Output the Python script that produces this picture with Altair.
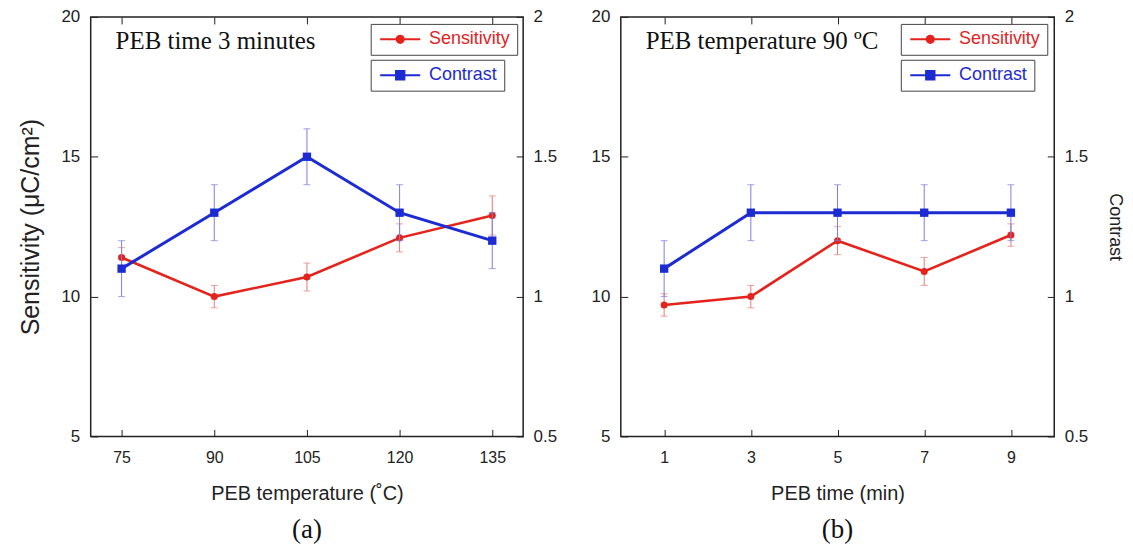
import altair as alt
import pandas as pd

# ---- data ----
temp_c = [75, 90, 105, 120, 135]
sens_temp = [11.4, 10.0, 10.7, 12.1, 12.9]
sens_temp_err = [0.35, 0.4, 0.5, 0.5, 0.7]
con_temp = [1.1, 1.3, 1.5, 1.3, 1.2]
con_temp_err = [0.1, 0.1, 0.1, 0.1, 0.1]

time_min = [1, 3, 5, 7, 9]
sens_time = [9.7, 10.0, 12.0, 10.9, 12.2]
sens_time_err = [0.4, 0.4, 0.5, 0.5, 0.4]
con_time = [1.1, 1.3, 1.3, 1.3, 1.3]
con_time_err = [0.1, 0.1, 0.1, 0.1, 0.1]

sens_ticks = [5, 10, 15, 20]
con_ticks = [0.5, 1, 1.5, 2]

RED = "#e3231c"
RED_ERR = "#e77a74"
BLUE = "#1c2bd2"
BLUE_ERR = "#7a7fdc"
SANS = "Liberation Sans"
SERIF = "Liberation Serif"

CIRCLE_PATH = ("M-1,0H5.7M2.35,-0.6A0.6,0.6,0,1,1,2.35,0.6"
               "A0.6,0.6,0,1,1,2.35,-0.6Z")
SQUARE_PATH = "M-1,0H5.7M1.65,-0.7H3.05V0.7H1.65Z"


def legend(color, path, ly):
    return alt.Legend(
        title=None, orient="none", legendX=281, legendY=ly,
        strokeColor="#444", fillColor="white", padding=6.5, cornerRadius=0,
        labelFont=SANS, labelFontSize=18, labelColor=color,
        symbolType=path, symbolSize=144, symbolStrokeWidth=2,
        symbolStrokeColor=color, symbolFillColor=color, symbolOpacity=1,
        labelOffset=34,
    )


def panel(xs, sens, serr, con, cerr, xdomain, xticks, xtitle, inner, tag,
          left_title, right_title, width):
    df = pd.DataFrame({
        "x": xs,
        "s": sens,
        "slo": [v - e for v, e in zip(sens, serr)],
        "shi": [v + e for v, e in zip(sens, serr)],
        "c": con,
        "clo": [v - e for v, e in zip(con, cerr)],
        "chi": [v + e for v, e in zip(con, cerr)],
        "sname": ["Sensitivity"] * len(xs),
        "cname": ["Contrast"] * len(xs),
    })
    xscale = alt.Scale(domain=xdomain, nice=False, zero=False)
    xb = alt.X("x:Q", scale=xscale, axis=alt.Axis(
        orient="bottom", values=xticks, title=xtitle, offset=-7, tickSize=7,
        domain=False, grid=False, labelPadding=13, labelFont=SANS,
        labelFontSize=16, labelColor="#222", tickColor="#222", titleFont=SANS,
        titleFontSize=20, titleFontWeight="normal", titleColor="#222",
        titlePadding=18))
    xt = alt.X("x:Q", scale=xscale, axis=alt.Axis(
        orient="top", values=xticks, title=None, labels=False, offset=-7,
        tickSize=7, domain=False, grid=False, tickColor="#222"))

    sscale = alt.Scale(domain=[5, 20], nice=False, zero=False)
    saxis = dict(orient="left", values=sens_ticks, offset=-7, tickSize=7,
                 domain=False, grid=False, labelPadding=11, labelFont=SANS,
                 labelFontSize=17, labelColor="#222", tickColor="#222",
                 titleFont=SANS, titleFontSize=25, titleFontWeight="normal",
                 titleColor="#222", titlePadding=17)
    saxis["title"] = left_title
    ys = alt.Y("s:Q", scale=sscale, axis=alt.Axis(**saxis))
    ysl = alt.Y("slo:Q", scale=sscale, axis=alt.Axis(**saxis))
    ysh = alt.Y("shi:Q", scale=sscale, axis=alt.Axis(**saxis))

    cscale = alt.Scale(domain=[0.5, 2], nice=False, zero=False)
    caxis = dict(orient="right", values=con_ticks, format=".1~f", offset=-7,
                 tickSize=7, domain=False, grid=False, labelPadding=10,
                 labelFont=SANS, labelFontSize=17, labelColor="#222",
                 tickColor="#222", titleFont=SANS, titleFontSize=18,
                 titleFontWeight="normal", titleColor="#222", titlePadding=18)
    caxis["title"] = right_title
    yc = alt.Y("c:Q", scale=cscale, axis=alt.Axis(**caxis))
    ycl = alt.Y("clo:Q", scale=cscale, axis=alt.Axis(**caxis))
    ych = alt.Y("chi:Q", scale=cscale, axis=alt.Axis(**caxis))

    base = alt.Chart(df)

    s_rule = base.mark_rule(color=RED_ERR, strokeWidth=1).encode(
        x=xb, y=ysl, y2="shi:Q")
    s_lo = base.mark_tick(color=RED_ERR, orient="horizontal", size=7,
                          thickness=1).encode(x=xb, y=ysl)
    s_hi = base.mark_tick(color=RED_ERR, orient="horizontal", size=7,
                          thickness=1).encode(x=xb, y=ysh)
    s_line = base.mark_line(
        strokeWidth=2.6,
        point=alt.OverlayMarkDef(filled=True, size=50, shape="circle"),
    ).encode(
        x=xb, y=ys,
        color=alt.Color("sname:N", scale=alt.Scale(domain=["Sensitivity"],
                                                   range=[RED]),
                        legend=legend(RED, CIRCLE_PATH, 7)))
    sens_layer = alt.layer(s_rule, s_lo, s_hi, s_line)

    c_rule = base.mark_rule(color=BLUE_ERR, strokeWidth=1).encode(
        x=xt, y=ycl, y2="chi:Q")
    c_lo = base.mark_tick(color=BLUE_ERR, orient="horizontal", size=7,
                          thickness=1).encode(x=xt, y=ycl)
    c_hi = base.mark_tick(color=BLUE_ERR, orient="horizontal", size=7,
                          thickness=1).encode(x=xt, y=ych)
    c_line = base.mark_line(
        strokeWidth=3,
        point=alt.OverlayMarkDef(filled=True, size=70, shape="square"),
    ).encode(
        x=xt, y=yc,
        color=alt.Color("cname:N", scale=alt.Scale(domain=["Contrast"],
                                                   range=[BLUE]),
                        legend=legend(BLUE, SQUARE_PATH, 43)))
    con_layer = alt.layer(c_rule, c_lo, c_hi, c_line)

    text = alt.Chart(pd.DataFrame({"t": [inner]})).mark_text(
        align="left", baseline="alphabetic", font=SERIF, fontSize=25,
        color="#111").encode(text="t:N", x=alt.value(25), y=alt.value(32))

    return alt.layer(sens_layer, con_layer, text).resolve_scale(
        y="independent", color="independent"
    ).resolve_axis(x="independent").properties(
        width=width, height=421,
        title=alt.TitleParams(tag, orient="bottom", font=SERIF, fontSize=27,
                              fontWeight="normal", color="#111", offset=14),
    )


pa = panel(temp_c, sens_temp, sens_temp_err, con_temp, con_temp_err,
           [70, 140], temp_c, "PEB temperature (\u02daC)",
           "PEB time 3 minutes", "(a)", "Sensitivity (\u03bcC/cm\u00b2)",
           None, 434)
pb = panel(time_min, sens_time, sens_time_err, con_time, con_time_err,
           [0, 10], time_min, "PEB time (min)",
           "PEB temperature 90 \u00baC", "(b)", None, "Contrast", 435)

chart = alt.hconcat(pa, pb, spacing=32).resolve_scale(
    color="independent"
).configure_view(
    stroke="#222", strokeWidth=1.5
).properties(
    padding={"left": 10, "top": -2, "right": 0, "bottom": 0},
    background="white",
)

chart.save("out.html", embed_options={"renderer": "svg", "actions": False})
